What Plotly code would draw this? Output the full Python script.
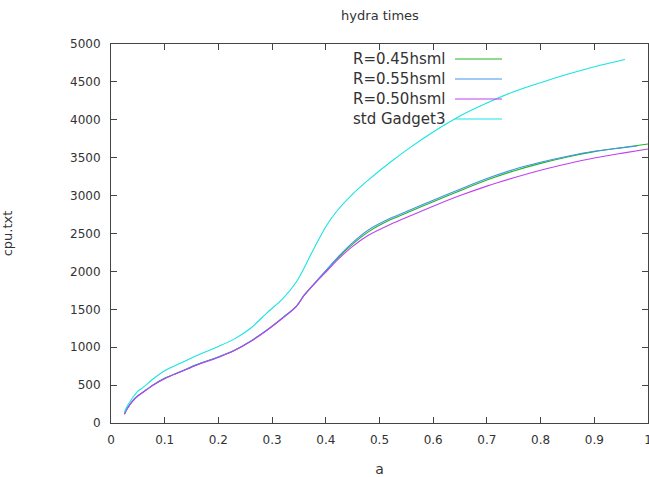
import plotly.graph_objects as go

a_main = [0.025, 0.03, 0.04, 0.05, 0.06, 0.08, 0.1, 0.13, 0.16, 0.2, 0.23, 0.26, 0.29, 0.32, 0.345,
          0.36, 0.38, 0.4, 0.42, 0.45, 0.48, 0.52, 0.56, 0.6, 0.65, 0.7, 0.75, 0.8, 0.85, 0.9, 0.95, 1.0]
r045 = [120, 190, 290, 360, 410, 510, 590, 680, 770, 870, 960, 1080, 1225, 1390, 1540,
        1690, 1850, 2005, 2160, 2360, 2525, 2680, 2800, 2920, 3065, 3205, 3325, 3425, 3510, 3580, 3632, 3680]
a_055 = a_main[:-1] + [0.98]
r055 = [120, 190, 290, 360, 410, 510, 590, 680, 770, 870, 960, 1080, 1225, 1390, 1540,
        1690, 1850, 2010, 2170, 2380, 2550, 2700, 2820, 2940, 3085, 3225, 3345, 3440, 3520, 3585, 3630, 3655]
r050 = [115, 185, 285, 355, 405, 505, 585, 675, 765, 865, 955, 1075, 1220, 1385, 1535,
        1685, 1845, 1990, 2140, 2330, 2480, 2620, 2740, 2860, 3000, 3125, 3235, 3335, 3420, 3495, 3557, 3615]
a_std = [0.025, 0.03, 0.04, 0.05, 0.06, 0.08, 0.1, 0.13, 0.16, 0.2, 0.23, 0.26, 0.29, 0.32, 0.345,
         0.36, 0.37, 0.38, 0.4, 0.42, 0.45, 0.48, 0.52, 0.56, 0.6, 0.65, 0.7, 0.75, 0.8, 0.85, 0.9, 0.957]
std = [140, 220, 330, 420, 470, 590, 690, 790, 890, 1010, 1110, 1250, 1450, 1640, 1860,
       2050, 2194, 2330, 2590, 2790, 3020, 3210, 3440, 3650, 3840, 4050, 4220, 4370, 4490, 4600, 4700, 4795]

names = ["R=0.45hsml", "R=0.55hsml", "R=0.50hsml", "std Gadget3"]
colors = ["#22b422", "#3f95ee", "#c040f0", "#19e3e3"]
xs = [a_main, a_055, a_main, a_std]
ys = [r045, r055, r050, std]

xticks = [0, 0.1, 0.2, 0.3, 0.4, 0.5, 0.6, 0.7, 0.8, 0.9, 1]
xticklabels = ["0", "0.1", "0.2", "0.3", "0.4", "0.5", "0.6", "0.7", "0.8", "0.9", "1"]
yticks = list(range(0, 5001, 500))

fig = go.Figure()
for x, y, n, c in zip(xs, ys, names, colors):
    fig.add_trace(go.Scatter(x=x, y=y, mode="lines", name=n,
                             line=dict(color=c, width=1.1, shape="spline", smoothing=0.8),
                             showlegend=False))

font = "DejaVu Sans"
# legend (text left of line sample, gnuplot style)
for i, (n, c) in enumerate(zip(names, colors)):
    yp = 1 - (15 + 20 * i) / 379
    fig.add_annotation(x=(448 - 111) / 537, y=yp, xref="paper", yref="paper", text=n,
                       showarrow=False, xanchor="right", yanchor="middle",
                       font=dict(family=font, size=15, color="#333"))
    fig.add_shape(type="line", xref="paper", yref="paper",
                  x0=(455 - 111) / 537, x1=(502 - 111) / 537, y0=yp, y1=yp,
                  line=dict(color=c, width=1.2))

axis_common = dict(showline=True, mirror="allticks", linecolor="#444", linewidth=1,
                   ticks="inside", ticklen=6, tickcolor="#444", showgrid=False, zeroline=False,
                   automargin=False, ticklabeloverflow="allow",
                   tickfont=dict(family=font, size=12, color="#333"))
fig.update_layout(
    width=649, height=477,
    margin=dict(l=111, r=1, t=44, b=54),
    paper_bgcolor="white", plot_bgcolor="white",
    title=dict(text="hydra times", x=(380) / 649, xanchor="center", y=1 - 15 / 477, yanchor="middle",
               font=dict(family=font, size=13, color="#333")),
    xaxis=dict(range=[0, 1], tickvals=xticks, ticktext=xticklabels, ticklabelstandoff=6,
               title=dict(text="a", font=dict(family=font, size=14, color="#333"), standoff=20),
               **axis_common),
    yaxis=dict(range=[0, 5000], tickvals=yticks, ticklabelstandoff=7,
               title=dict(text="cpu.txt", font=dict(family=font, size=13, color="#333"), standoff=63),
               **axis_common),
)
fig.write_html("out.html", post_script="document.body.style.margin='0';",
               config={"displayModeBar": False})
